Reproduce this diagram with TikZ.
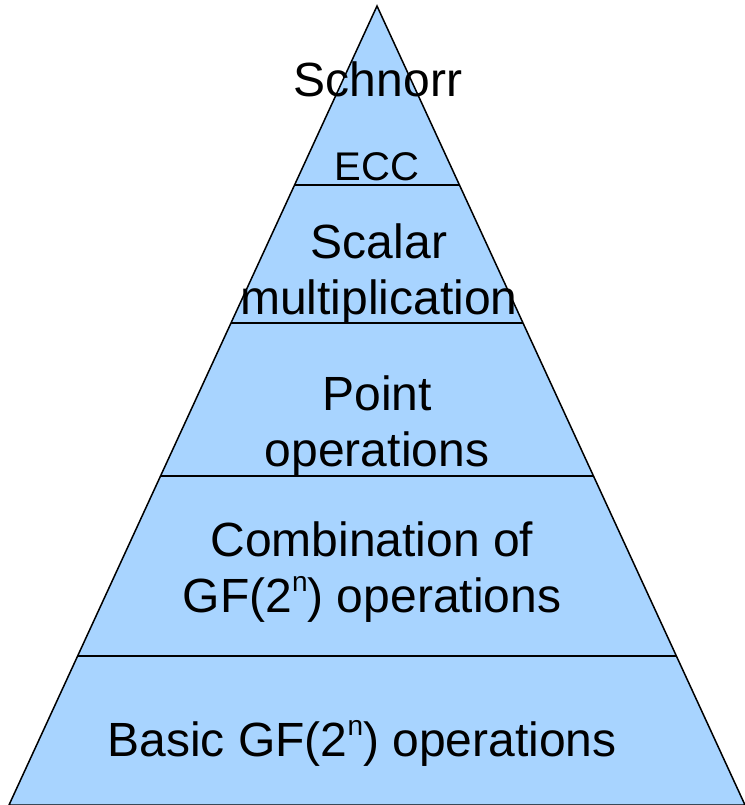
\documentclass[tikz,border=0pt]{standalone}
\usepackage{fontspec}
\setmainfont{Liberation Sans}
\usetikzlibrary{calc}
\definecolor{pyrblue}{RGB}{168,212,255}
\newcommand{\gfsup}{GF(2\raisebox{0.43em}{\fontsize{28}{28}\selectfont n})}

\begin{document}
\begin{tikzpicture}
[	x=1pt,y=-1pt,
	level/.style={draw=none,fill=none,align=center,anchor=base,font=\fontsize{48}{56}\selectfont},
	small/.style={level,font=\fontsize{40}{46}\selectfont},
	split/.style={line width=1.5pt}
]
\useasboundingbox (0,0) rectangle (744,805);
\coordinate (top) at (377,6);
\coordinate (bl) at (9,805);
\coordinate (br) at (745,805);

\filldraw[fill=pyrblue,line width=1.5pt] (bl) -- (top) -- (br) -- cycle;

\draw[split] ($(top)!0.224!(bl)$) -- ($(top)!0.224!(br)$);
\draw[split] ($(top)!0.397!(bl)$) -- ($(top)!0.397!(br)$);
\draw[split] ($(top)!0.588!(bl)$) -- ($(top)!0.588!(br)$);
\draw[split] ($(top)!0.8135!(bl)$) -- ($(top)!0.8135!(br)$);

% base anchor of two-line nodes sits on the last line
\node[level] (schnorr) at (378,97){Schnorr};
\node[small] (ecc) at (377,181){ECC};
\node[level] (scalar) at (379,314){Scalar\\multiplication};
\node[level] (point) at (377,466){Point\\operations};
\node[level] (comb) at (372,612){Combination of\\\gfsup{} operations};
\node[level] (basic) at (362,756){Basic \gfsup{} operations};
\end{tikzpicture}
\end{document}
